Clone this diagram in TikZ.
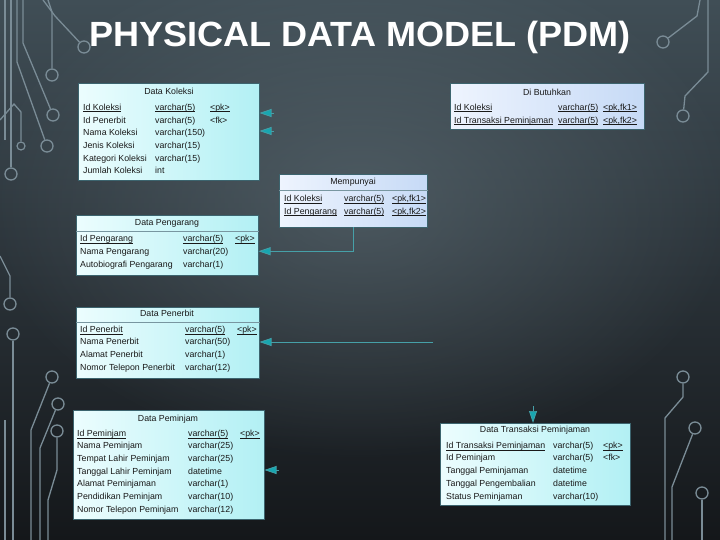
\documentclass[tikz,border=0pt]{standalone}
\usepackage{fontspec}
\setmainfont{Liberation Sans}
\usepackage{graphicx}
\usetikzlibrary{arrows.meta,fadings}
\definecolor{bgtop}{RGB}{64,78,86}
\definecolor{bgmid}{RGB}{42,50,56}
\definecolor{bgbot}{RGB}{20,23,26}
\definecolor{hl}{RGB}{100,116,124}
\definecolor{tealar}{RGB}{24,166,176}
\definecolor{tealln}{RGB}{70,160,168}
\definecolor{circ}{RGB}{122,140,150}
\definecolor{cyanA}{RGB}{236,253,254}
\definecolor{cyanB}{RGB}{178,240,244}
\definecolor{blueA}{RGB}{238,244,254}
\definecolor{blueB}{RGB}{198,218,246}
\definecolor{edge}{RGB}{60,100,110}
\definecolor{sepc}{RGB}{120,150,160}
\tikzfading[name=fuzzyc, inner color=transparent!0, outer color=transparent!100]
\newcommand\ul[1]{\underline{\smash{#1}}}
\newcommand\trow[8]{%
  \node[cell] (#1a) at (#3,#2) {#6};
  \node[cell] (#1b) at (#4,#2) {#7};
  \node[cell] (#1c) at (#5,#2) {#8};}
\tikzset{
  tbl/.style={draw=edge, line width=0.5pt, left color=cyanA, right color=cyanB, inner sep=0pt, anchor=north west},
  rel/.style={draw=edge, line width=0.5pt, left color=blueA, right color=blueB, inner sep=0pt, anchor=north west},
  cell/.style={anchor=west, inner sep=0pt, font=\fontsize{8.8}{10}\selectfont, text height=6.4pt, text depth=1.8pt, text=black!90},
  ttl/.style={anchor=center, inner sep=0pt, font=\fontsize{8.8}{10}\selectfont, text height=6.4pt, text depth=1.8pt, text=black!90},
  sepl/.style={draw=sepc, line width=0.5pt},
  fk/.style={draw=tealln, line width=0.7pt, -{Triangle[length=12pt,width=8pt,fill=tealar]}},
  trace/.style={draw=circ, line width=1.3pt},
  pad/.style={circle, draw=circ, line width=1.3pt, minimum size=12pt, inner sep=0pt},
  pads/.style={circle, draw=circ, line width=1.2pt, minimum size=8pt, inner sep=0pt}
}
\begin{document}
\begin{tikzpicture}[x=1pt,y=-1pt]
\useasboundingbox (0,0) rectangle (720,540);
\shade[top color=bgtop, bottom color=bgbot, middle color=bgmid] (0,0) rectangle (720,540);
\begin{scope}
\clip (0,0) rectangle (720,540);
\fill[hl, path fading=fuzzyc, fill opacity=0.55] (360,200) ellipse [x radius=380, y radius=260];
\end{scope}

% circuit traces, left
\node[pad] (pt) at (84,47) {};
\draw[trace] (43,0) -- (55,16) -- (pt);
\node[pad] (pa) at (52,75) {};
\draw[trace] (48,0) -- (52,12) -- (pa);
\node[pad] (pb) at (53,115) {};
\draw[trace] (23,0) -- (23,43) -- (pb);
\node[pad] (pc) at (47,146) {};
\draw[trace] (17,0) -- (17,62) -- (pc);
\node[pads] (pd) at (21,146) {};
\draw[trace] (0,120) -- (14,104) -- (21,112) -- (pd);
\node[pad] (pe) at (11,174) {};
\draw[trace] (11,0) -- (pe);
\draw[trace] (5,0) -- (5,140);
\node[pad] (pf) at (10,304) {};
\draw[trace] (0,256) -- (10,276) -- (pf);
\node[pad] (pg) at (13,334) {};
\draw[trace] (pg) -- (13,540);
\node[pad] (ph) at (52,377) {};
\draw[trace] (ph) -- (31,430) -- (31,540);
\node[pad] (pi) at (58,404) {};
\draw[trace] (pi) -- (40,448) -- (40,540);
\node[pad] (pj) at (57,431) {};
\draw[trace] (pj) -- (57,470) -- (48,500) -- (48,540);
\draw[trace] (5,420) -- (5,540);
% circuit traces, right
\node[pad] (qa) at (663,42) {};
\draw[trace] (700,0) -- (697,16) -- (qa);
\node[pad] (qb) at (683,116) {};
\draw[trace] (708,0) -- (708,72) -- (685,96) -- (qb);
\node[pad] (qc) at (683,377) {};
\draw[trace] (qc) -- (683,397) -- (665,418) -- (665,540);
\node[pad] (qd) at (695,428) {};
\draw[trace] (qd) -- (672,487) -- (672,540);
\node[pad] (qe) at (702,493) {};
\draw[trace] (qe) -- (702,540);

% title
\node[text=white, inner sep=0pt, font=\fontsize{35}{40}\selectfont\bfseries] (title) at (360,37) {\scalebox{1.03}[1]{PHYSICAL DATA MODEL (PDM)}};

% Data Koleksi
\node[tbl, minimum width=181pt, minimum height=97pt] (koleksi) at (78,83) {};
\node[ttl] (koleksit) at (169,92) {Data Koleksi};
\trow{ka}{108}{83}{155}{210}{\ul{Id Koleksi}}{\ul{varchar(5)}}{\ul{<pk>}}
\trow{kb}{121}{83}{155}{210}{Id Penerbit}{varchar(5)}{<fk>}
\trow{kc}{133}{83}{155}{210}{Nama Koleksi}{varchar(150)}{}
\trow{kd}{146}{83}{155}{210}{Jenis Koleksi}{varchar(15)}{}
\trow{ke}{159}{83}{155}{210}{Kategori Koleksi}{varchar(15)}{}
\trow{kf}{171}{83}{155}{210}{Jumlah Koleksi}{int}{}

% Di Butuhkan
\node[rel, minimum width=194pt, minimum height=46pt] (butuh) at (450,83) {};
\node[ttl] (butuht) at (547,93) {Di Butuhkan};
\trow{ba}{108}{454}{558}{603}{\ul{Id Koleksi}}{\ul{varchar(5)}}{\ul{<pk,fk1>}}
\trow{bb}{121}{454}{558}{603}{\ul{Id Transaksi Peminjaman}}{\ul{varchar(5)}}{\ul{<pk,fk2>}}

% Mempunyai
\node[rel, minimum width=148pt, minimum height=53pt] (punya) at (279,174) {};
\node[ttl] (punyat) at (353,182) {Mempunyai};
\draw[sepl] ([yshift=-16pt]punya.north west) -- ([yshift=-16pt]punya.north east);
\trow{ma}{199}{284}{344}{392}{\ul{Id Koleksi}}{\ul{varchar(5)}}{\ul{<pk,fk1>}}
\trow{mb}{212}{284}{344}{392}{\ul{Id Pengarang}}{\ul{varchar(5)}}{\ul{<pk,fk2>}}

% Data Pengarang
\node[tbl, minimum width=182pt, minimum height=60pt] (pengarang) at (76,215) {};
\node[ttl] (pengarangt) at (167,223) {Data Pengarang};
\draw[sepl] ([yshift=-16pt]pengarang.north west) -- ([yshift=-16pt]pengarang.north east);
\trow{ga}{239}{80}{183}{235}{\ul{Id Pengarang}}{\ul{varchar(5)}}{\ul{<pk>}}
\trow{gb}{252}{80}{183}{235}{Nama Pengarang}{varchar(20)}{}
\trow{gc}{265}{80}{183}{235}{Autobiografi Pengarang}{varchar(1)}{}

% Data Penerbit
\node[tbl, minimum width=183pt, minimum height=71pt] (penerbit) at (76,307) {};
\node[ttl] (penerbitt) at (167,314) {Data Penerbit};
\draw[sepl] ([yshift=-15pt]penerbit.north west) -- ([yshift=-15pt]penerbit.north east);
\trow{na}{330}{80}{185}{237}{\ul{Id Penerbit}}{\ul{varchar(5)}}{\ul{<pk>}}
\trow{nb}{342}{80}{185}{237}{Nama Penerbit}{varchar(50)}{}
\trow{nc}{355}{80}{185}{237}{Alamat Penerbit}{varchar(1)}{}
\trow{nd}{368}{80}{185}{237}{Nomor Telepon Penerbit}{varchar(12)}{}

% Data Peminjam
\node[tbl, minimum width=191pt, minimum height=109pt] (peminjam) at (73,410) {};
\node[ttl] (peminjamt) at (168,419) {Data Peminjam};
\trow{ja}{434}{77}{188}{240}{\ul{Id Peminjam}}{\ul{varchar(5)}}{\ul{<pk>}}
\trow{jb}{446}{77}{188}{240}{Nama Peminjam}{varchar(25)}{}
\trow{jc}{459}{77}{188}{240}{Tempat Lahir Peminjam}{varchar(25)}{}
\trow{jd}{472}{77}{188}{240}{Tanggal Lahir Peminjam}{datetime}{}
\trow{je}{484}{77}{188}{240}{Alamat Peminjaman}{varchar(1)}{}
\trow{jf}{497}{77}{188}{240}{Pendidikan Peminjam}{varchar(10)}{}
\trow{jg}{510}{77}{188}{240}{Nomor Telepon Peminjam}{varchar(12)}{}

% Data Transaksi Peminjaman
\node[tbl, minimum width=190pt, minimum height=82pt] (transaksi) at (440,423) {};
\node[ttl] (transaksit) at (535,430) {Data Transaksi Peminjaman};
\trow{ta}{446}{446}{553}{603}{\ul{Id Transaksi Peminjaman}}{varchar(5)}{\ul{<pk>}}
\trow{tb}{458}{446}{553}{603}{Id Peminjam}{varchar(5)}{<fk>}
\trow{tc}{471}{446}{553}{603}{Tanggal Peminjaman}{datetime}{}
\trow{td}{484}{446}{553}{603}{Tanggal Pengembalian}{datetime}{}
\trow{te}{497}{446}{553}{603}{Status Peminjaman}{varchar(10)}{}

% connectors
\coordinate (c1) at (274,113);
\draw[fk] (c1) -- (c1 -| koleksi.east);
\coordinate (c2) at (274,131);
\draw[fk] (c2) -- (c2 -| koleksi.east);
\draw[fk] (punya.south) |- ([yshift=-6pt]pengarang.east);
\coordinate (c3) at (433,342);
\draw[fk] (c3) -- (c3 -| penerbit.east);
\coordinate (c4) at (279,470);
\draw[fk] (c4) -- (c4 -| peminjam.east);
\coordinate (c5) at (533,406);
\draw[fk] (c5) -- (c5 |- transaksi.north);
\end{tikzpicture}
\end{document}
